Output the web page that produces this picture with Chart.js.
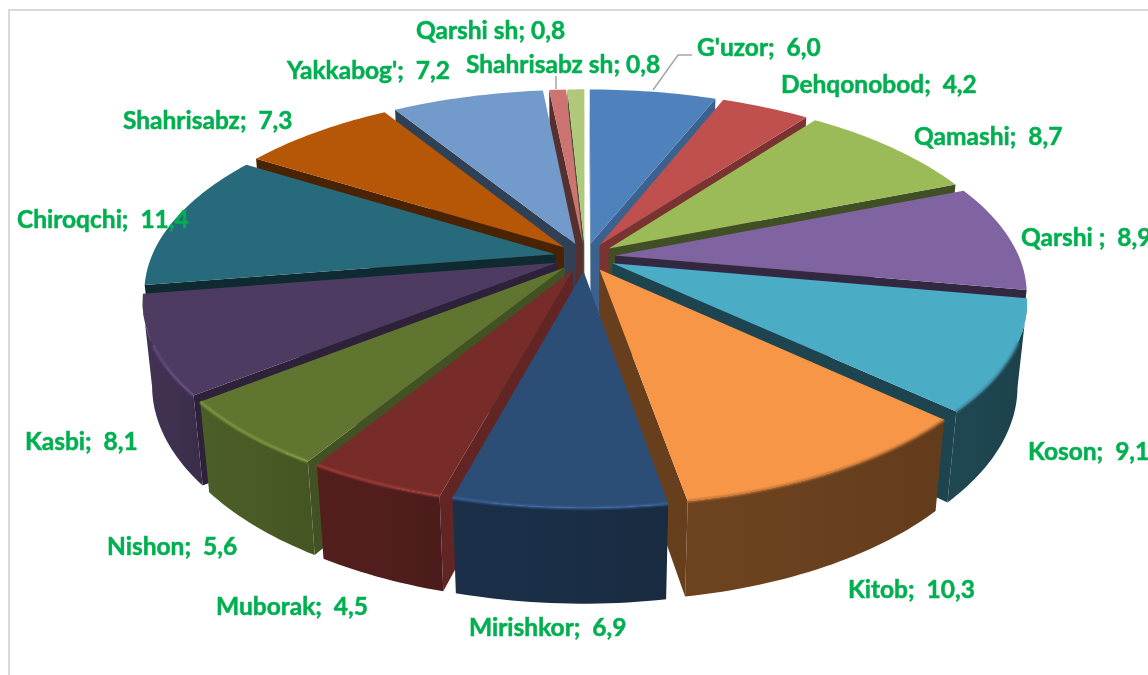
<!DOCTYPE html>
<html>
<head>
<meta charset="utf-8">
<style>
  html, body { margin: 0; padding: 0; background: #fff; overflow: hidden; }
</style>
<script src="https://cdn.jsdelivr.net/npm/chart.js@4"></script>
</head>
<body>
<canvas id="chartPie" width="1148" height="675"></canvas>
<script>
const categories = ["G'uzor", 'Dehqonobod', 'Qamashi', 'Qarshi ', 'Koson', 'Kitob', 'Mirishkor', 'Muborak', 'Nishon', 'Kasbi', 'Chiroqchi', 'Shahrisabz', "Yakkabog'", 'Qarshi sh', 'Shahrisabz sh'];
const values = [6.0, 4.2, 8.7, 8.9, 9.1, 10.3, 6.9, 4.5, 5.6, 8.1, 11.4, 7.3, 7.2, 0.8, 0.8];

const colors = ['#4F81BD', '#C0504D', '#9BBB59', '#8064A2', '#4BACC6', '#F79646', '#2C4D75', '#772C2A', '#5F7530', '#4D3B62', '#276A7C', '#B65708', '#729ACA', '#CD7371', '#AFC97A'];
// how dark the outer wall, the cut faces and the front rim get, per slice
const wallShade = [0.6, 0.6, 0.45, 0.42, 0.4, 0.43, 0.6, 0.68, 0.78, 0.83, 0.5, 0.45, 0.45, 0.45, 0.45];
const cutShade = [0.75, 0.64, 0.42, 0.4, 0.4, 0.42, 0.6, 0.83, 0.7, 0.58, 0.4, 0.4, 0.42, 0.42, 0.42];
const rimShade = [1, 1, 1, 0.8, 0.75, 0.75, 1.35, 1.4, 1.4, 1.35, 1, 1, 1, 1, 1];
const labelPos = [[697, 48], [781, 85], [914, 137], [1021, 238], [1028, 452], [848, 590], [469, 628], [216, 607], [107, 547], [25, 442], [17, 220], [123, 121], [287, 71], [416, 31], [466, 65]];

const view = { cx: 585, cy: 257, rx: 404, ry: 187, persp: 0.185, sink: 0.00025, depth: 84 };

const shade = (hex, k) => {
   const n = parseInt(hex.slice(1), 16);
   const ch = (v) => Math.min(255, Math.round(v * k));
   return `rgb(${ch(n >> 16)},${ch((n >> 8) & 255)},${ch(n & 255)})`;
};

// u, v are pie coordinates in radii, v pointing to the viewer; z is the drop in px
const project = (u, v, z) => {
   const w = 1 - view.persp * v + view.sink * z;
   return [view.cx + view.rx * u / w, view.cy + (view.ry * v + z) / w];
};

const slicePolygon = (arc) => {
   const mid = (arc.startAngle + arc.endAngle) / 2;
   const e = (arc.options.offset || 0) / 4 / arc.outerRadius;
   const ox = Math.cos(mid) * e;
   const oy = Math.sin(mid) * e;
   const steps = Math.max(2, Math.ceil((arc.endAngle - arc.startAngle) / 0.02));
   const pts = [[ox, oy]];
   for (let i = 0; i <= steps; i++) {
      const a = arc.startAngle + (arc.endAngle - arc.startAngle) * i / steps;
      pts.push([ox + Math.cos(a), oy + Math.sin(a)]);
   }
   return pts;
};

const tracePath = (ctx, pts, close) => {
   ctx.beginPath();
   pts.forEach((p, i) => (i ? ctx.lineTo(p[0], p[1]) : ctx.moveTo(p[0], p[1])));
   if (close) ctx.closePath();
};

const drawSlice = (ctx, arc, i) => {
   const base = colors[i];
   const pts = slicePolygon(arc);
   const top = pts.map((p) => project(p[0], p[1], 0));
   const low = pts.map((p) => project(p[0], p[1], view.depth));
   const n = pts.length;

   // cut faces first; only faces whose top edge runs leftwards look at the viewer
   ctx.fillStyle = shade(base, cutShade[i]);
   [[0, 1], [n - 1, 0]].forEach(([a, b]) => {
      if (top[b][0] >= top[a][0]) return;
      tracePath(ctx, [top[a], top[b], low[b], low[a]], true);
      ctx.fill();
   });

   // outer wall, one polygon for the part of the arc that faces front
   const front = [];
   for (let k = 1; k < n; k++) {
      const leftward = (k < n - 1 && top[k + 1][0] < top[k][0]) || (k > 1 && top[k][0] < top[k - 1][0]);
      if (leftward) front.push(k);
   }
   if (front.length > 1) {
      const xs = front.map((k) => top[k][0]);
      const grad = ctx.createLinearGradient(Math.min(...xs), 0, Math.max(...xs), 0);
      grad.addColorStop(0, shade(base, wallShade[i] * 1.03));
      grad.addColorStop(0.5, shade(base, wallShade[i]));
      grad.addColorStop(1, shade(base, wallShade[i] * 0.93));
      ctx.fillStyle = grad;
      tracePath(ctx, front.map((k) => top[k]).concat(front.slice().reverse().map((k) => low[k])), true);
      ctx.fill();
   }

   ctx.fillStyle = base;
   tracePath(ctx, top, true);
   ctx.fill();

   // soft rim where the top meets the front wall, not on the flanks
   const rim = front.filter((k) => pts[k][1] > 0.42);
   if (rim.length > 1 && rimShade[i] !== 1) {
      ctx.strokeStyle = shade(base, rimShade[i]);
      ctx.lineJoin = 'round';
      [[5, 0.25], [2.5, 0.55]].forEach(([width, alpha]) => {
         ctx.globalAlpha = alpha;
         ctx.lineWidth = width;
         tracePath(ctx, rim.map((k) => top[k]), false);
         ctx.stroke();
      });
      ctx.globalAlpha = 1;
   }
};

const pie3d = {
   id: 'pie3d',
   beforeDraw(chart) {
      const ctx = chart.ctx;
      ctx.save();
      ctx.strokeStyle = '#D9D9D9';
      ctx.lineWidth = 2;
      ctx.beginPath();
      ctx.moveTo(9, 675);
      ctx.lineTo(9, 10);
      ctx.lineTo(1148, 10);
      ctx.stroke();
      ctx.restore();
   },
   beforeDatasetDraw(chart, args) {
      const ctx = chart.ctx;
      const arcs = args.meta.data;
      const order = arcs.map((arc, i) => i).sort((a, b) => {
         const ma = Math.sin((arcs[a].startAngle + arcs[a].endAngle) / 2);
         const mb = Math.sin((arcs[b].startAngle + arcs[b].endAngle) / 2);
         return ma - mb;
      });
      ctx.save();
      order.forEach((i) => drawSlice(ctx, arcs[i], i));
      ctx.restore();
      return false;
   },
   afterDatasetsDraw(chart) {
      const ctx = chart.ctx;
      ctx.save();
      ctx.strokeStyle = '#A6A6A6';
      ctx.lineWidth = 1.5;
      ctx.beginPath();
      ctx.moveTo(692, 55);
      ctx.lineTo(678, 55);
      ctx.lineTo(653, 90);
      ctx.moveTo(556, 76);
      ctx.lineTo(556, 89);
      ctx.stroke();

      ctx.fillStyle = '#00B050';
      ctx.strokeStyle = '#00B050';
      ctx.lineWidth = 0.5;
      ctx.font = "bold 24.5px Lato, 'Open Sans', sans-serif";
      ctx.textBaseline = 'middle';
      categories.forEach((name, i) => {
         const sep = name.endsWith(' sh') ? '; ' : ';  ';
         const text = name + sep + values[i].toFixed(1).replace('.', ',');
         ctx.fillText(text, labelPos[i][0], labelPos[i][1]);
         ctx.strokeText(text, labelPos[i][0], labelPos[i][1]);
      });
      ctx.restore();
   }
};

new Chart(document.getElementById('chartPie').getContext('2d'), {
   type: 'pie',
   data: {
      labels: categories,
      datasets: [{
         data: values,
         backgroundColor: colors,
         borderWidth: 0,
         offset: 90
      }]
   },
   options: {
      responsive: false,
      animation: false,
      radius: 300,
      plugins: {
         legend: { display: false },
         tooltip: { enabled: false }
      }
   },
   plugins: [pie3d]
});
</script>
</body>
</html>
